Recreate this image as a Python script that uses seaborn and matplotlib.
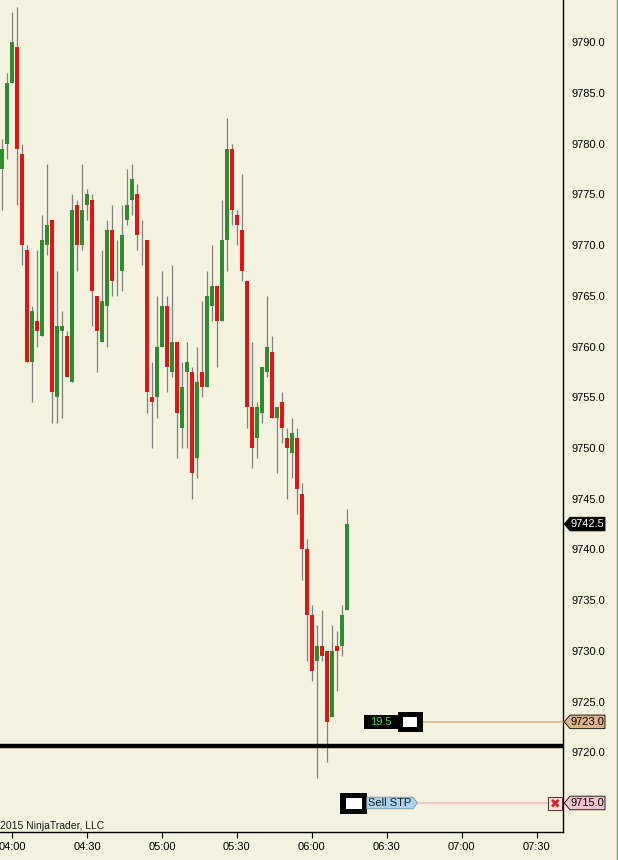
import numpy as np
import pandas as pd
import matplotlib
matplotlib.use("Agg")
import matplotlib.pyplot as plt
import matplotlib.transforms as mtransforms
from matplotlib.patches import Polygon, Rectangle
from matplotlib.lines import Line2D
import seaborn as sns

# ---------------- data ----------------
times = ["03:56", "03:58", "04:00", "04:02", "04:04", "04:06", "04:08", "04:10", "04:12", "04:14",
         "04:16", "04:18", "04:20", "04:22", "04:24", "04:26", "04:28", "04:30", "04:32", "04:34",
         "04:36", "04:38", "04:40", "04:42", "04:44", "04:46", "04:48", "04:50", "04:52", "04:54",
         "04:56", "04:58", "05:00", "05:02", "05:04", "05:06", "05:08", "05:10", "05:12", "05:14",
         "05:16", "05:18", "05:20", "05:22", "05:24", "05:26", "05:28", "05:30", "05:32", "05:34",
         "05:36", "05:38", "05:40", "05:42", "05:44", "05:46", "05:48", "05:50", "05:52", "05:54",
         "05:56", "05:58", "06:00", "06:02", "06:04", "06:06", "06:08", "06:10", "06:12", "06:14"]
opens = [9777.5, 9780.0, 9786.0, 9789.5, 9779.0, 9769.5, 9758.5, 9762.5, 9761.0, 9770.0,
         9772.5, 9755.0, 9761.5, 9761.0, 9756.5, 9774.0, 9770.0, 9774.0, 9774.5, 9765.0,
         9760.5, 9764.0, 9771.5, 9767.0, 9767.5, 9772.5, 9774.5, 9775.0, 9770.0, 9770.5,
         9755.0, 9755.0, 9760.0, 9764.0, 9757.5, 9760.5, 9752.0, 9757.5, 9757.5, 9749.0,
         9757.5, 9756.0, 9764.0, 9766.0, 9762.5, 9770.5, 9779.5, 9773.0, 9771.5, 9766.5,
         9754.0, 9751.0, 9753.5, 9757.5, 9759.5, 9753.0, 9754.5, 9751.0, 9749.5, 9751.0,
         9745.5, 9740.0, 9733.5, 9729.0, 9730.5, 9730.0, 9723.5, 9730.5, 9730.5, 9734.0]
highs = [9780.5, 9787.0, 9793.0, 9793.5, 9780.0, 9770.0, 9764.0, 9769.5, 9773.0, 9778.0,
         9772.5, 9767.5, 9763.5, 9761.5, 9775.0, 9774.5, 9778.0, 9775.5, 9775.0, 9765.0,
         9769.5, 9772.5, 9774.0, 9770.5, 9774.0, 9777.5, 9778.0, 9776.0, 9772.5, 9770.5,
         9758.5, 9765.0, 9767.5, 9765.0, 9768.0, 9760.5, 9758.5, 9760.5, 9758.0, 9760.0,
         9764.5, 9767.5, 9770.0, 9766.0, 9774.5, 9782.5, 9780.0, 9773.5, 9777.0, 9766.5,
         9760.5, 9754.5, 9758.0, 9765.0, 9761.0, 9754.0, 9755.5, 9752.0, 9753.0, 9752.0,
         9746.5, 9741.0, 9734.5, 9732.5, 9734.0, 9730.0, 9732.5, 9732.0, 9734.5, 9744.0]
lows = [9773.5, 9778.5, 9786.0, 9774.0, 9768.0, 9758.5, 9754.5, 9760.0, 9761.0, 9769.0,
        9752.5, 9752.5, 9753.0, 9757.0, 9756.5, 9767.5, 9769.5, 9772.5, 9762.0, 9757.5,
        9760.5, 9760.0, 9765.0, 9765.0, 9765.5, 9772.0, 9773.0, 9769.5, 9768.0, 9753.5,
        9750.0, 9753.0, 9760.0, 9755.5, 9757.0, 9749.0, 9750.0, 9750.0, 9745.0, 9747.0,
        9755.0, 9756.0, 9762.5, 9758.0, 9762.5, 9767.5, 9772.0, 9770.0, 9766.5, 9752.0,
        9748.0, 9749.0, 9752.5, 9757.0, 9753.0, 9747.5, 9750.5, 9745.0, 9747.0, 9743.5,
        9737.0, 9729.0, 9727.0, 9717.5, 9729.0, 9719.0, 9723.5, 9726.0, 9729.5, 9734.0]
closes = [9779.5, 9786.0, 9790.0, 9779.5, 9770.0, 9758.5, 9763.5, 9761.5, 9770.5, 9772.0,
          9755.5, 9762.0, 9762.0, 9757.0, 9773.5, 9770.0, 9773.5, 9775.0, 9765.5, 9761.5,
          9764.5, 9771.5, 9766.5, 9767.0, 9771.0, 9774.0, 9776.5, 9771.0, 9770.0, 9755.5,
          9754.5, 9760.0, 9764.0, 9758.0, 9760.5, 9753.5, 9756.0, 9758.5, 9747.5, 9756.5,
          9756.0, 9765.0, 9766.0, 9762.5, 9770.5, 9779.5, 9773.5, 9772.0, 9767.5, 9754.0,
          9750.0, 9754.0, 9758.0, 9760.0, 9753.0, 9754.0, 9752.0, 9750.0, 9751.5, 9746.0,
          9740.0, 9733.5, 9728.0, 9730.5, 9729.5, 9723.0, 9730.0, 9730.0, 9733.5, 9742.5]
x_tick_labels = ["04:00", "04:30", "05:00", "05:30", "06:00", "06:30", "07:00", "07:30"]
price_ticks = [9720.0, 9725.0, 9730.0, 9735.0, 9740.0, 9745.0, 9750.0, 9755.0,
               9760.0, 9765.0, 9770.0, 9775.0, 9780.0, 9785.0, 9790.0]
last_price = 9742.5
target_price = 9723.0
stop_price = 9715.0
level_price = 9720.6
pnl_text = "19.5"
order_text = "Sell STP"
copyright_text = "2015 NinjaTrader, LLC"

# ---------------- style ----------------
BG = "#F5F3DF"
UP = "#2E8B2E"
DOWN = "#E51414"
WICK = "#7F7F7F"

sns.set_theme(style="white", rc={"axes.facecolor": BG, "figure.facecolor": BG,
                                 "savefig.facecolor": BG})
plt.rcParams["font.family"] = ["Liberation Sans", "DejaVu Sans"]

W, H = 618, 860
fig = plt.figure(figsize=(W / 100, H / 100), dpi=100)
ax = fig.add_axes([0, 28 / H, 563 / W, 832 / H])

t0 = pd.Timestamp("1900-01-01 04:00")


def to_min(labels):
    return ((pd.to_datetime(pd.Series(labels), format="%H:%M") - t0).dt.total_seconds() / 60).to_numpy()


df = pd.DataFrame({"time": times, "open": opens, "high": highs, "low": lows, "close": closes})
df["x"] = to_min(df["time"])
df["up"] = df["close"] >= df["open"]
df["body_lo"] = df[["open", "close"]].min(axis=1)
df["body_h"] = (df["close"] - df["open"]).abs()

ax.vlines(df["x"], df["low"], df["high"], color=WICK, lw=0.9, zorder=2)
ax.bar(df["x"], df["body_h"], bottom=df["body_lo"], width=1.45,
       color=np.where(df["up"], UP, DOWN), linewidth=0, zorder=3)

# horizontal lines
ax.axhline(level_price, color="black", lw=3.2, zorder=4)

y_top = 9794.17
y_bot = 9712.14
x_left = -4.886
x_right = 220.59
ax.set_xlim(x_left, x_right)
ax.set_ylim(y_bot, y_top)

ppx = (y_top - y_bot) / 832.0  # price per pixel


def fx(px):
    return px / W


blend = mtransforms.blended_transform_factory(fig.transFigure, ax.transData)

ax.add_line(Line2D([fx(422.5), fx(563)], [target_price, target_price], transform=blend,
                   color="#D9B48C", lw=1.2, zorder=4, clip_on=False))
ax.add_line(Line2D([fx(417), fx(548)], [stop_price, stop_price], transform=blend,
                   color="#F2BEC6", lw=1.2, zorder=4, clip_on=False))


def rect(x0, x1, price, up_px, dn_px, fc, ec="none", lw=0.0, z=5):
    r = Rectangle((fx(x0), price - dn_px * ppx), fx(x1) - fx(x0), (up_px + dn_px) * ppx,
                  transform=blend, fc=fc, ec=ec, lw=lw, zorder=z, clip_on=False)
    ax.add_patch(r)


# position marker: "19.5" box + white square
rect(364, 397.5, target_price, 6.5, 7.5, "black")
ax.text(fx(381), target_price - 0.5 * ppx, pnl_text, transform=blend, color="#3CD23C",
        fontsize=8, ha="center", va="center", zorder=6)
rect(397.5, 422.5, target_price, 9.5, 10.5, "black")
rect(402.7, 416.7, target_price, 4.5, 5.5, "white", z=6)

# order marker: white square + "Sell STP" tag + X box
rect(340, 366.7, stop_price, 10, 11.5, "black")
rect(345.7, 361.7, stop_price, 5, 6.5, "white", z=6)
h = 5.8 * ppx
sell_poly = Polygon([(fx(366.7), stop_price + h), (fx(413), stop_price + h),
                     (fx(417.3), stop_price), (fx(413), stop_price - h),
                     (fx(366.7), stop_price - h)], closed=True, transform=blend,
                    fc="#A9D3EE", ec="#6E8FA8", lw=0.6, zorder=6, clip_on=False)
ax.add_patch(sell_poly)
ax.text(fx(368), stop_price - 0.3 * ppx, order_text, transform=blend, color="#1A1A1A",
        fontsize=8, ha="left", va="center", zorder=7)
rect(548.3, 561.7, stop_price, 6, 7, "#FCE4E4", ec="#6A2020", lw=0.7)
ax.text(fx(555), stop_price - 0.5 * ppx, "\u2716", transform=blend, color="#E02020",
        fontsize=9, ha="center", va="center", zorder=7, family=["DejaVu Sans"])


def price_tag(price, text, fc, tc, ec="black"):
    hh = 6.8 * ppx
    poly = Polygon([(fx(564.3), price), (fx(570), price + hh), (fx(605), price + hh),
                    (fx(605), price - hh), (fx(570), price - hh)], closed=True,
                   transform=blend, fc=fc, ec=ec, lw=0.6, zorder=6, clip_on=False)
    ax.add_patch(poly)
    ax.text(fx(587.5), price - 0.4 * ppx, text, transform=blend, color=tc, fontsize=8,
            ha="center", va="center", zorder=7, clip_on=False)


# axes / ticks
ax.set_xticks(to_min(x_tick_labels))
ax.set_xticklabels(x_tick_labels)
ax.yaxis.tick_right()
ax.set_yticks(price_ticks)
ax.set_yticklabels([f"{p:.1f}" for p in price_ticks])
ax.tick_params(axis="both", direction="out", length=4, width=0.8, color="black",
               labelsize=8, labelcolor="black", pad=2)
ax.tick_params(axis="x", bottom=True, pad=3)
ax.tick_params(axis="y", right=True, left=False)
sns.despine(ax=ax, top=True, left=True, right=False, bottom=False)
for s in ("right", "bottom"):
    ax.spines[s].set_color("black")
    ax.spines[s].set_linewidth(1.0)
ax.grid(False)

price_tag(last_price, f"{last_price:.1f}", "black", "white")
price_tag(target_price, f"{target_price:.1f}", "#DDB48A", "black")
price_tag(stop_price, f"{stop_price:.1f}", "#F8C4D2", "black")

fig.text(fx(0.5), 1 - 826 / H, copyright_text, fontsize=7.5, color="#1A1A1A",
         ha="left", va="center")
fig.add_artist(Line2D([fx(617.3), fx(617.3)], [0, 1], transform=fig.transFigure,
                      color="#5FAF5F", lw=1.0))

fig.savefig("out.png", dpi=100, facecolor=BG)
